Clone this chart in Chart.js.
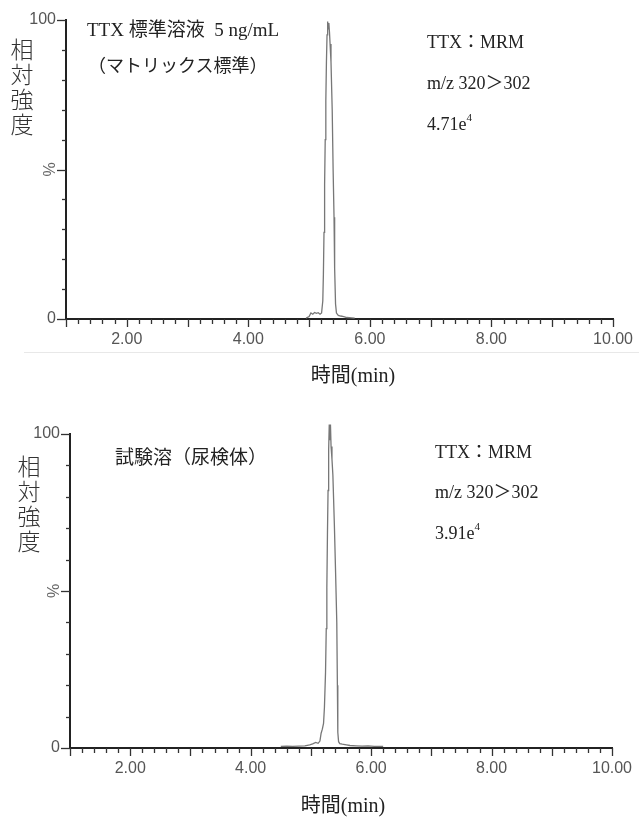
<!DOCTYPE html>
<html><head><meta charset="utf-8">
<script src="https://cdn.jsdelivr.net/npm/chart.js@4"></script>
<style>
body{margin:0;background:#fff;}
#wrap{position:relative;width:639px;height:818px;overflow:hidden;background:#fff;}
canvas{position:absolute;left:0;}
.t{position:absolute;white-space:nowrap;font-family:"Liberation Serif","Noto Sans CJK JP",serif;color:#222;line-height:1;}
.t sup{font-size:11px;position:relative;top:-2px;}
.v{position:absolute;font-family:"Noto Sans CJK JP",sans-serif;font-weight:300;color:#333;font-size:23px;line-height:25px;width:26px;text-align:center;}
.sep{position:absolute;height:1px;background:#e8e8e8;}
</style></head>
<body><div id="wrap">
<canvas id="c1" width="639" height="400" style="top:0"></canvas>
<canvas id="c2" width="639" height="408" style="top:410px"></canvas>

<div class="t" style="left:87px;top:20px;font-size:19px;">TTX 標準溶液&nbsp;&nbsp;5 ng/mL</div>
<div class="t" style="left:88px;top:57px;font-size:18px;">（マトリックス標準）</div>
<div class="t" style="left:427px;top:33px;font-size:18px;">TTX：MRM</div>
<div class="t" style="left:427px;top:74px;font-size:18px;">m/z 320＞302</div>
<div class="t" style="left:427px;top:114px;font-size:18px;">4.71e<sup>4</sup></div>
<div class="v" style="left:9px;top:36px;">相<br>対<br>強<br>度</div>
<div class="sep" style="left:24px;top:352px;width:615px;"></div>
<div class="t" style="left:353px;top:365px;font-size:20px;transform:translateX(-50%);">時間(min)</div>

<div class="t" style="left:115px;top:448px;font-size:19px;">試験溶（尿検体）</div>
<div class="t" style="left:435px;top:443px;font-size:18px;">TTX：MRM</div>
<div class="t" style="left:435px;top:483px;font-size:18px;">m/z 320＞302</div>
<div class="t" style="left:435px;top:523px;font-size:18px;">3.91e<sup>4</sup></div>
<div class="v" style="left:16px;top:453px;">相<br>対<br>強<br>度</div>
<div class="t" style="left:343px;top:795px;font-size:20px;transform:translateX(-50%);">時間(min)</div>
</div>
<script>
// ---- data (retention time in min, relative intensity in %) ----
const timeStd = [4.95,5.00,5.03,5.06,5.09,5.12,5.15,5.18,5.205,5.225,5.235,5.245,5.255,5.265,5.275,5.285,5.295,5.305,5.315,5.325,5.335,5.345,5.36,5.38,5.395,5.41,5.42,5.435,5.45,5.48,5.52,5.57,5.62,5.70,5.75];
const intensityStd = [0.3,0.8,2.0,1.6,2.2,1.9,2.1,1.6,2.0,6,15,29,45,60,73,86,95,99.5,97,99,96,92,86,70,50,34,17,5,2,1.2,1.0,0.8,0.5,0.4,0.3];
const timeUrine = [4.50,4.60,4.70,4.80,4.90,4.98,5.03,5.08,5.12,5.15,5.17,5.19,5.21,5.225,5.243,5.255,5.265,5.275,5.285,5.295,5.305,5.315,5.325,5.335,5.35,5.365,5.39,5.41,5.43,5.44,5.447,5.46,5.48,5.52,5.59,5.65,5.75,5.85,5.95,6.05,6.2];
const intensityUrine = [0.5,0.6,0.5,0.6,0.7,1.0,1.3,1.8,1.5,2.2,4.7,6,7.8,13,24,38,51,68,82,95,103,98,103,96,92,87,71,56,40,20,5,2.0,1.4,1.2,1.0,0.8,0.7,0.6,0.7,0.5,0.5];
const xTickValues = [2,4,6,8,10];
const xTickLabels = ['2.00','4.00','6.00','8.00','10.00'];
const yTickValues = [0,100];
const yTickLabels = ['0','100'];
const yPercentValue = 50;
const yPercentLabel = '%';

const tickMarks = {
  id:'tickMarks',
  afterDraw(chart){
    const ctx = chart.ctx, x = chart.scales.x, y = chart.scales.y;
    ctx.save();
    ctx.strokeStyle = '#333'; ctx.lineWidth = 1.3;
    x.ticks.forEach(t => {
      const v = t.value, major = Math.abs(v - Math.round(v)) < 1e-6;
      const px = Math.round(x.getPixelForValue(v)) + 0.5;
      ctx.beginPath(); ctx.moveTo(px, x.top); ctx.lineTo(px, x.top + (major ? 8 : 5)); ctx.stroke();
    });
    y.ticks.forEach(t => {
      const v = t.value, major = Math.abs(v % 50) < 1e-6;
      const py = Math.round(y.getPixelForValue(v)) + 0.5;
      ctx.beginPath(); ctx.moveTo(y.right, py); ctx.lineTo(y.right - (major ? 9 : 4), py); ctx.stroke();
    });
    const py = y.getPixelForValue(yPercentValue);
    ctx.translate(y.right - 15, py); ctx.rotate(-Math.PI/2);
    ctx.fillStyle = '#666'; ctx.font = '16px "Liberation Sans", Arial, sans-serif';
    ctx.textAlign = 'center'; ctx.textBaseline = 'middle';
    ctx.fillText(yPercentLabel, 0, 0);
    ctx.restore();
  }
};

function makeChart(id, times, values, g){
  const canvas = document.getElementById(id);
  const H = canvas.height;
  const tickFont = {family:'"Liberation Sans", Arial, sans-serif', size:16};
  return new Chart(canvas, {
    type:'line',
    data:{datasets:[{
      data: times.map((t,i)=>({x:t, y:values[i]})),
      borderColor:'#777', borderWidth:1.3, pointRadius:0, tension:0, fill:false, clip:false
    }]},
    options:{
      responsive:false, animation:false, devicePixelRatio:1,
      layout:{padding:{top:g.top, right:g.right, left:0, bottom:0}},
      plugins:{legend:{display:false}, tooltip:{enabled:false}},
      scales:{
        x:{type:'linear', min:1, max:10,
          afterFit: s => { s.height = H - g.bottom; },
          ticks:{stepSize:0.2, autoSkip:false, maxRotation:0, minRotation:0, padding:3, color:'#555', font:tickFont,
            callback: v => { const i = xTickValues.findIndex(a => Math.abs(a - v) < 1e-6); return i >= 0 ? xTickLabels[i] : ''; }},
          grid:{display:true, drawOnChartArea:false, drawTicks:true, tickLength:8, tickColor:'rgba(0,0,0,0)'},
          border:{display:true, color:'#222', width:2}
        },
        y:{min:0, max:100,
          afterFit: s => { s.width = g.left; },
          ticks:{stepSize:10, autoSkip:false, padding:1, color:'#555', font:tickFont,
            callback: v => { const i = yTickValues.findIndex(a => Math.abs(a - v) < 1e-6); return i >= 0 ? yTickLabels[i] : ''; }},
          grid:{display:true, drawOnChartArea:false, drawTicks:true, tickLength:9, tickColor:'rgba(0,0,0,0)'},
          border:{display:true, color:'#222', width:2}
        }
      }
    },
    plugins:[tickMarks]
  });
}

makeChart('c1', timeStd, intensityStd, {left:66, right:26, top:20, bottom:319});
makeChart('c2', timeUrine, intensityUrine, {left:70, right:27, top:24, bottom:338});
</script>
</body></html>
